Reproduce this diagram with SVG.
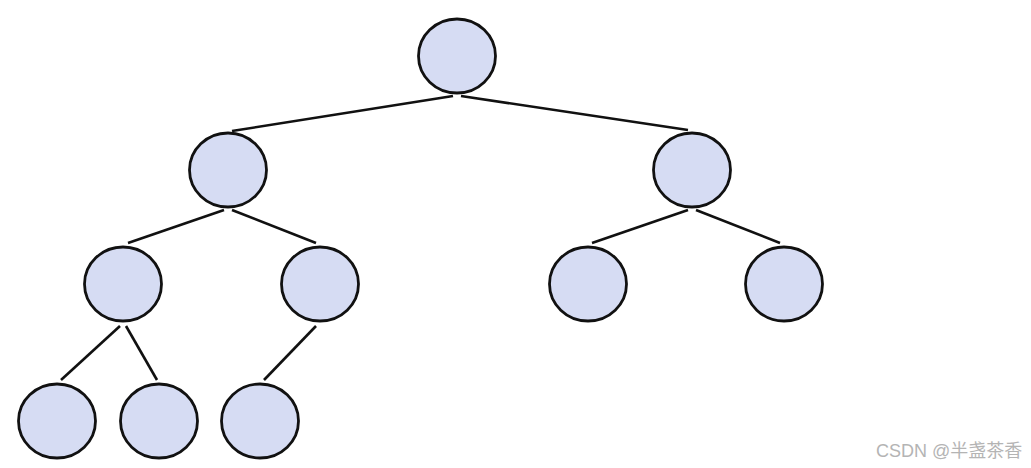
<svg xmlns="http://www.w3.org/2000/svg" width="1031" height="468" viewBox="0 0 1031 468">
<style>
.n{fill:#d6dcf3;stroke:#111;stroke-width:2.8}
.e{stroke:#111;stroke-width:2.6;fill:none}
.w{font-family:"Liberation Sans","Noto Sans CJK SC",sans-serif;font-size:18px;fill:#b4b4b4}
</style>
<rect width="1031" height="468" fill="#fff"/>
<g id="edges">
<line class="e" x1="453" y1="96" x2="232" y2="131"/>
<line class="e" x1="461" y1="96" x2="688" y2="130"/>
<line class="e" x1="224" y1="210" x2="128" y2="243"/>
<line class="e" x1="232" y1="210" x2="316" y2="243"/>
<line class="e" x1="688" y1="210" x2="592" y2="243"/>
<line class="e" x1="696" y1="210" x2="780" y2="243"/>
<line class="e" x1="120" y1="326" x2="61" y2="380"/>
<line class="e" x1="126" y1="326" x2="157" y2="380"/>
<line class="e" x1="316" y1="326" x2="264" y2="380"/>
</g>
<g id="n0"><ellipse class="n" cx="457" cy="56" rx="38.5" ry="37"/></g>
<g id="n1"><ellipse class="n" cx="228" cy="170" rx="38.5" ry="37"/></g>
<g id="n2"><ellipse class="n" cx="692" cy="170" rx="38.5" ry="37"/></g>
<g id="n3"><ellipse class="n" cx="123" cy="284" rx="38.5" ry="37"/></g>
<g id="n4"><ellipse class="n" cx="320" cy="284" rx="38.5" ry="37"/></g>
<g id="n5"><ellipse class="n" cx="588" cy="284" rx="38.5" ry="37"/></g>
<g id="n6"><ellipse class="n" cx="784" cy="284" rx="38.5" ry="37"/></g>
<g id="n7"><ellipse class="n" cx="57" cy="421" rx="38.5" ry="37"/></g>
<g id="n8"><ellipse class="n" cx="159" cy="421" rx="38.5" ry="37"/></g>
<g id="n9"><ellipse class="n" cx="260" cy="421" rx="38.5" ry="37"/></g>
<text class="w" x="876" y="457">CSDN @半盏茶香</text>
</svg>
